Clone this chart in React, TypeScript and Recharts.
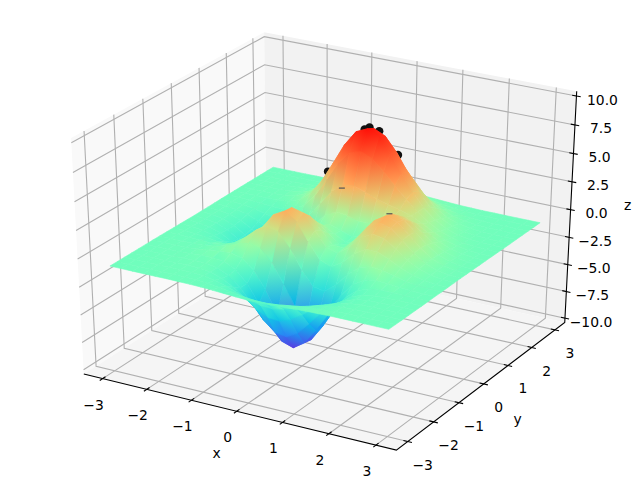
import { Scatter, ScatterChart, XAxis, YAxis } from "recharts";

const gridValues = [-3, -2.75, -2.5, -2.25, -2, -1.75, -1.5, -1.25, -1, -0.75, -0.5, -0.25, 0, 0.25, 0.5, 0.75, 1, 1.25, 1.5, 1.75, 2, 2.25, 2.5, 2.75, 3];

// one row per y value (from -3 to 3), one column per x value
const surfaceZ = [
    [0, 0, 0, 0, 0, 0.01, 0, -0.01, -0.03, -0.08, -0.14, -0.2, -0.25, -0.25, -0.22, -0.17, -0.11, -0.06, -0.03, -0.01, 0, 0, 0, 0, 0],
    [0, 0, 0, 0, 0.01, 0.01, 0, -0.03, -0.1, -0.22, -0.39, -0.56, -0.68, -0.7, -0.61, -0.46, -0.3, -0.17, -0.08, -0.03, -0.01, 0, 0, 0, 0],
    [0, 0, 0, 0.01, 0.01, 0.02, 0, -0.07, -0.23, -0.52, -0.91, -1.3, -1.56, -1.6, -1.4, -1.06, -0.69, -0.38, -0.18, -0.08, -0.03, -0.01, 0, 0, 0],
    [0, 0, 0.01, 0.01, 0.03, 0.04, 0.01, -0.12, -0.44, -0.99, -1.74, -2.51, -3.02, -3.1, -2.72, -2.05, -1.32, -0.73, -0.35, -0.14, -0.05, -0.01, 0, 0, 0],
    [0, 0, 0.01, 0.02, 0.05, 0.07, 0.05, -0.13, -0.59, -1.45, -2.64, -3.88, -4.76, -4.93, -4.35, -3.27, -2.1, -1.15, -0.53, -0.2, -0.06, -0.01, 0, 0, 0],
    [0, 0, 0.01, 0.03, 0.07, 0.13, 0.15, 0.02, -0.46, -1.48, -3.01, -4.7, -5.98, -6.33, -5.64, -4.24, -2.69, -1.42, -0.61, -0.2, -0.05, 0, 0.01, 0, 0],
    [0, 0, 0.01, 0.03, 0.08, 0.19, 0.33, 0.39, 0.15, -0.68, -2.19, -4.08, -5.68, -6.33, -5.76, -4.32, -2.64, -1.27, -0.44, -0.07, 0.04, 0.05, 0.03, 0.01, 0],
    [0, -0.01, -0.01, -0.01, 0.03, 0.17, 0.45, 0.84, 1.11, 0.88, -0.14, -1.85, -3.6, -4.6, -4.4, -3.22, -1.74, -0.56, 0.08, 0.27, 0.23, 0.13, 0.06, 0.02, 0.01],
    [-0.01, -0.02, -0.06, -0.1, -0.13, -0.04, 0.3, 0.98, 1.86, 2.45, 2.22, 1, -0.72, -2.02, -2.22, -1.43, -0.27, 0.58, 0.88, 0.77, 0.5, 0.26, 0.11, 0.04, 0.01],
    [-0.02, -0.05, -0.12, -0.25, -0.42, -0.51, -0.28, 0.49, 1.78, 3.09, 3.63, 2.94, 1.4, -0.01, -0.41, 0.2, 1.18, 1.79, 1.78, 1.35, 0.82, 0.41, 0.18, 0.06, 0.02],
    [-0.02, -0.08, -0.2, -0.44, -0.8, -1.16, -1.21, -0.6, 0.8, 2.49, 3.55, 3.3, 2, 0.7, 0.39, 1.14, 2.2, 2.76, 2.56, 1.88, 1.12, 0.56, 0.24, 0.09, 0.03],
    [-0.03, -0.1, -0.27, -0.6, -1.14, -1.78, -2.16, -1.84, -0.56, 1.23, 2.56, 2.63, 1.58, 0.53, 0.48, 1.5, 2.76, 3.37, 3.09, 2.25, 1.34, 0.66, 0.28, 0.1, 0.03],
    [-0.04, -0.11, -0.3, -0.69, -1.33, -2.14, -2.77, -2.71, -1.65, 0.06, 1.48, 1.75, 0.98, 0.19, 0.38, 1.57, 2.94, 3.58, 3.27, 2.37, 1.41, 0.7, 0.3, 0.11, 0.03],
    [-0.03, -0.11, -0.29, -0.67, -1.32, -2.16, -2.87, -2.98, -2.15, -0.65, 0.68, 1.06, 0.52, -0.03, 0.28, 1.47, 2.76, 3.36, 3.06, 2.22, 1.32, 0.65, 0.28, 0.1, 0.03],
    [-0.03, -0.09, -0.25, -0.57, -1.12, -1.85, -2.49, -2.64, -2, -0.76, 0.39, 0.8, 0.46, 0.09, 0.38, 1.34, 2.38, 2.83, 2.56, 1.85, 1.09, 0.54, 0.23, 0.08, 0.02],
    [-0.02, -0.07, -0.18, -0.41, -0.82, -1.33, -1.76, -1.78, -1.16, -0.05, 1.04, 1.55, 1.42, 1.12, 1.17, 1.65, 2.17, 2.32, 1.99, 1.4, 0.82, 0.4, 0.17, 0.06, 0.02],
    [-0.01, -0.04, -0.11, -0.25, -0.48, -0.74, -0.86, -0.6, 0.23, 1.51, 2.79, 3.59, 3.69, 3.34, 2.94, 2.66, 2.43, 2.08, 1.58, 1.04, 0.58, 0.28, 0.11, 0.04, 0.01],
    [-0.01, -0.02, -0.06, -0.12, -0.2, -0.23, -0.05, 0.55, 1.69, 3.29, 4.92, 6.07, 6.39, 5.94, 5.02, 3.97, 2.97, 2.09, 1.35, 0.79, 0.41, 0.18, 0.07, 0.03, 0.01],
    [0, -0.01, -0.02, -0.03, -0.01, 0.11, 0.48, 1.27, 2.61, 4.37, 6.2, 7.54, 8, 7.48, 6.25, 4.72, 3.25, 2.05, 1.19, 0.62, 0.29, 0.12, 0.05, 0.02, 0],
    [0, 0, 0, 0.01, 0.07, 0.24, 0.65, 1.43, 2.67, 4.29, 5.96, 7.22, 7.68, 7.2, 5.99, 4.45, 2.96, 1.78, 0.96, 0.47, 0.21, 0.08, 0.03, 0.01, 0],
    [0, 0, 0.01, 0.02, 0.08, 0.23, 0.55, 1.16, 2.1, 3.31, 4.56, 5.51, 5.86, 5.5, 4.57, 3.37, 2.21, 1.29, 0.68, 0.32, 0.13, 0.05, 0.02, 0, 0],
    [0, 0, 0.01, 0.02, 0.06, 0.16, 0.36, 0.74, 1.32, 2.07, 2.84, 3.43, 3.65, 3.43, 2.84, 2.09, 1.36, 0.79, 0.41, 0.19, 0.08, 0.03, 0.01, 0, 0],
    [0, 0, 0, 0.01, 0.03, 0.08, 0.19, 0.39, 0.69, 1.07, 1.46, 1.77, 1.88, 1.77, 1.46, 1.07, 0.7, 0.4, 0.2, 0.09, 0.04, 0.01, 0, 0, 0],
    [0, 0, 0, 0.01, 0.01, 0.04, 0.09, 0.17, 0.3, 0.47, 0.64, 0.77, 0.82, 0.77, 0.64, 0.47, 0.3, 0.17, 0.09, 0.04, 0.02, 0.01, 0, 0, 0],
    [0, 0, 0, 0, 0.01, 0.01, 0.03, 0.06, 0.11, 0.17, 0.23, 0.28, 0.3, 0.28, 0.23, 0.17, 0.11, 0.06, 0.03, 0.01, 0.01, 0, 0, 0, 0],
];

const surfaceBase = -0.9; // the sheet sits a little under z = 0 in the picture

// where z lands on the rainbow colormap
const colorZ = [-6.4, 0, 3.6, 8];
const colorV = [0.075, 0.47, 0.76, 0.98];

const pointX = [0, -0.09, 0.2, 0.45, -0.75];
const pointY = [1.58, 1.55, 1.6, 1.9, 1.3];
const pointZ = [7.1, 6.9, 6.9, 4.6, 3];

const speckX = [-0.5, 0.5];
const speckY = [1.4, 1.5];
const speckZ = [1.6, 0];

const xTicks = [-3, -2, -1, 0, 1, 2, 3];
const yTicks = [-3, -2, -1, 0, 1, 2, 3];
const zTicks = [-10, -7.5, -5, -2.5, 0, 2.5, 5, 7.5, 10];
const xTickLabels = ["−3", "−2", "−1", "0", "1", "2", "3"];
const yTickLabels = ["−3", "−2", "−1", "0", "1", "2", "3"];
const zTickLabels = ["−10.0", "−7.5", "−5.0", "−2.5", "0.0", "2.5", "5.0", "7.5", "10.0"];

const LIM_XY = 3.43;
const LIM_Z = 10.4;
const FONT = "'DejaVu Sans', sans-serif";

type V3 = [number, number, number];

// same camera as mplot3d: elev 30, azim -60, dist 10
const project = ([x, y, z]: V3) => {
    const qx = (x + LIM_XY) / (2 * LIM_XY) - 0.5;
    const qy = (y + LIM_XY) / (2 * LIM_XY) - 0.5;
    const qz = (z + LIM_Z) / (2 * LIM_Z) - 0.5;
    const sx = 0.866 * qx + 0.5 * qy;
    const sy = -0.25 * qx + 0.433 * qy + 0.866 * qz;
    const near = 0.433 * qx - 0.75 * qy + 0.5 * qz;
    const d = 10 - near;
    return { px: 328 + (3608 * sx) / d, py: 234 - (2695 * sy) / d, near };
};

const mark = (corners: V3[], style: Record<string, unknown>) => {
    const pts = corners.map(project);
    return {
        px: pts[0].px,
        py: pts[0].py,
        near: pts.reduce((s, p) => s + p.near, 0) / pts.length,
        offsets: pts.map((p) => [p.px - pts[0].px, p.py - pts[0].py]),
        ...style,
    };
};

const colorOf = (z: number) => {
    let k = 0;
    while (k < colorZ.length - 2 && z > colorZ[k + 1]) k++;
    const t = (z - colorZ[k]) / (colorZ[k + 1] - colorZ[k]);
    const v = colorV[k] + t * (colorV[k + 1] - colorV[k]);
    const r = Math.abs(2 * v - 0.5);
    const g = Math.sin(Math.PI * v);
    // the deepest part of the trough reads duller than the plain colormap
    const b = Math.cos((Math.PI * v) / 2) * (v < 0.16 ? 0.78 + (v / 0.16) * 0.22 : 1);
    return `rgb(${Math.round(Math.min(r, 1) * 255)},${Math.round(g * 255)},${Math.round(b * 255)})`;
};

const L = LIM_XY;
const H = LIM_Z;

const panes = [
    mark([[-L, -L, -H], [-L, L, -H], [-L, L, H], [-L, -L, H]], { fill: "#f9f9f9" }),
    mark([[-L, L, -H], [L, L, -H], [L, L, H], [-L, L, H]], { fill: "#f2f2f2" }),
    mark([[-L, -L, -H], [L, -L, -H], [L, L, -H], [-L, L, -H]], { fill: "#f5f5f5" }),
];

const grid = { stroke: "#b0b0b0", strokeWidth: 1.1, fill: "none" };
const gridLines = [
    ...xTicks.map((t) => mark([[t, -L, -H], [t, L, -H], [t, L, H]], grid)),
    ...yTicks.map((t) => mark([[L, t, -H], [-L, t, -H], [-L, t, H]], grid)),
    ...zTicks.map((t) => mark([[-L, -L, t], [-L, L, t], [L, L, t]], grid)),
];

const ink = { stroke: "#000", strokeWidth: 1.1, fill: "none" };
const axisLines = [
    mark([[-L, -L, -H], [L, -L, -H], [L, L, -H], [L, L, H]], ink),
    ...xTicks.map((t) => mark([[t, -L - 0.1, -H], [t, -L + 0.1, -H]], ink)),
    ...yTicks.map((t) => mark([[L - 0.09, t, -H], [L + 0.09, t, -H]], ink)),
    ...zTicks.map((t) => mark([[L - 0.09, L, t], [L + 0.09, L, t]], ink)),
];

const cells = surfaceZ
    .slice(0, -1)
    .flatMap((row, j) =>
        row.slice(0, -1).map((_, i) => {
            const zs = [row[i], row[i + 1], surfaceZ[j + 1][i + 1], surfaceZ[j + 1][i]];
            const low = zs.indexOf(Math.min(...zs));
            const high = zs.indexOf(Math.max(...zs));
            return {
                ...mark(
                    [
                        [gridValues[i], gridValues[j], zs[0] + surfaceBase],
                        [gridValues[i + 1], gridValues[j], zs[1] + surfaceBase],
                        [gridValues[i + 1], gridValues[j + 1], zs[2] + surfaceBase],
                        [gridValues[i], gridValues[j + 1], zs[3] + surfaceBase],
                    ],
                    {},
                ),
                gradId: `cell-${j}-${i}`,
                low,
                high,
                lowColor: colorOf(zs[low]),
                highColor: colorOf(zs[high]),
            };
        }),
    )
    .sort((a, b) => a.near - b.near);

const points = pointX.map((x, i) => project([x, pointY[i], pointZ[i]]));
const specks = speckX.map((x, i) => project([x, speckY[i], speckZ[i]]));

const label = (at: V3, dx: number, dy: number, text: string) => {
    const p = project(at);
    return { px: p.px + dx, py: p.py + dy, text };
};

const labels = [
    ...xTicks.map((t, i) => label([t, -L, -H], -9, 26, xTickLabels[i])),
    ...yTicks.map((t, i) => label([L, t, -H], 15, 23, yTickLabels[i])),
    ...zTicks.map((t, i) => label([L, L, t], 26, 3.5, zTickLabels[i])),
    label([0, -L, -H], -20, 42, "x"),
    label([L, 0, -H], 34, 35, "y"),
    label([L, L, 0], 57, -5, "z"),
];

const toPath = (cx: number, cy: number, offsets: number[][]) =>
    offsets.map(([dx, dy], i) => `${i ? "L" : "M"}${cx + dx} ${cy + dy}`).join(" ");

const PolyShape = (props: any) => {
    const { cx, cy, payload } = props;
    return <path d={toPath(cx, cy, payload.offsets)} fill={payload.fill} stroke={payload.stroke ?? "none"} strokeWidth={payload.strokeWidth} />;
};

const CellShape = (props: any) => {
    const { cx, cy, payload } = props;
    const from = payload.offsets[payload.low];
    const to = payload.offsets[payload.high];
    const paint = `url(#${payload.gradId})`;
    return (
        <g>
            <defs>
                <linearGradient id={payload.gradId} gradientUnits="userSpaceOnUse" x1={cx + from[0]} y1={cy + from[1]} x2={cx + to[0] + 0.01} y2={cy + to[1] + 0.01}>
                    <stop offset="0" stopColor={payload.lowColor} />
                    <stop offset="1" stopColor={payload.highColor} />
                </linearGradient>
            </defs>
            <path d={toPath(cx, cy, payload.offsets) + " Z"} fill={paint} stroke={paint} strokeWidth={0.6} />
        </g>
    );
};

const DotShape = (props: any) => <circle cx={props.cx} cy={props.cy} r={4.2} fill="#111" />;
const SpeckShape = (props: any) => <rect x={props.cx - 3} y={props.cy - 0.5} width={6} height={1.2} fill="#555" />;

const TextShape = (props: any) => (
    <text x={props.cx} y={props.cy} dy="0.36em" textAnchor="middle" fontFamily={FONT} fontSize={13.9} fill="#000">
        {props.payload.text}
    </text>
);

export default function App() {
    return (
        <div style={{ position: "absolute", left: 0, top: 0 }}>
            <ScatterChart width={640} height={480} margin={{ top: 0, right: 0, bottom: 0, left: 0 }}>
                <XAxis type="number" dataKey="px" domain={[0, 640]} hide />
                <YAxis type="number" dataKey="py" domain={[0, 480]} reversed hide />
                <Scatter data={panes} shape={PolyShape} isAnimationActive={false} />
                <Scatter data={gridLines} shape={PolyShape} isAnimationActive={false} />
                <Scatter data={axisLines} shape={PolyShape} isAnimationActive={false} />
                <Scatter data={points} shape={DotShape} isAnimationActive={false} />
                <Scatter data={cells} shape={CellShape} isAnimationActive={false} />
                <Scatter data={specks} shape={SpeckShape} isAnimationActive={false} />
                <Scatter data={labels} shape={TextShape} isAnimationActive={false} />
            </ScatterChart>
        </div>
    );
}
